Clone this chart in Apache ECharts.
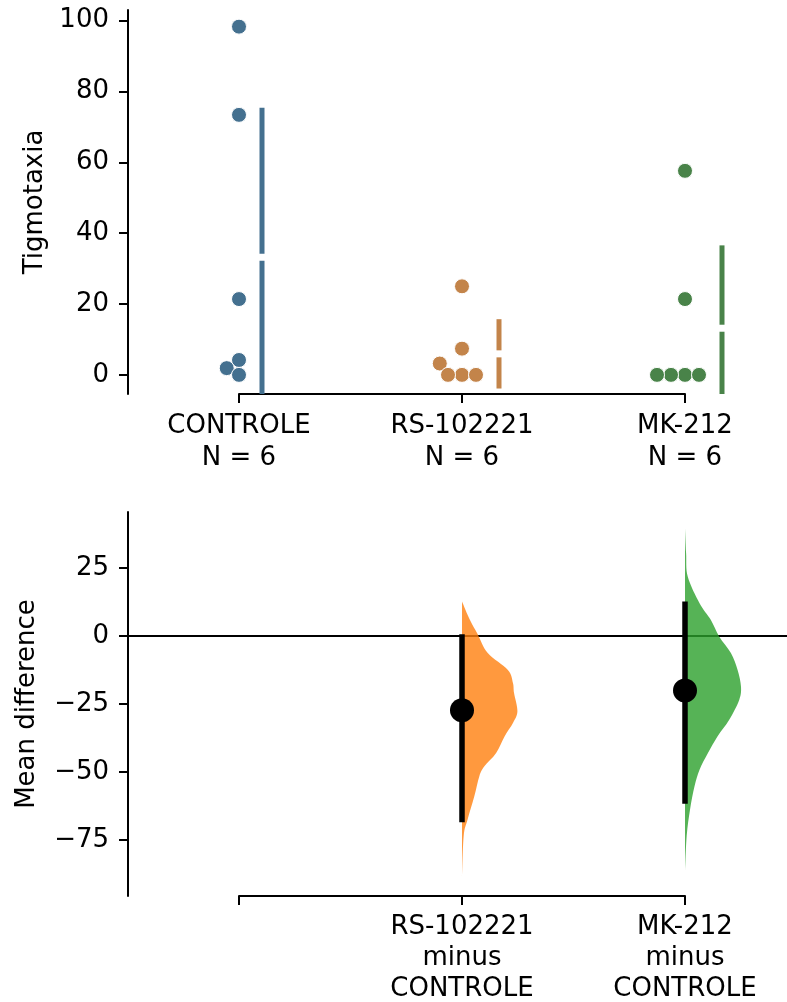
<!DOCTYPE html>
<html>
<head>
<meta charset="utf-8">
<script src="https://cdn.jsdelivr.net/npm/echarts@6/dist/echarts.min.js"></script>
<style>
  html, body { margin: 0; padding: 0; background: #fff; }
  #chart { width: 787px; height: 1002px; }
</style>
</head>
<body>
<div id="chart"></div>
<script>
// top panel: raw observations per group
const groups = ['CONTROLE', 'RS-102221', 'MK-212'];
const groupN = ['N = 6', 'N = 6', 'N = 6'];
const controleVals = [98.3, 73.4, 21.4, 4.2, 1.9, 0];
const rsVals = [25.0, 7.4, 3.2, 0, 0, 0];
const mkVals = [57.6, 21.4, 0, 0, 0, 0];
const topTicks = [0, 20, 40, 60, 80, 100];

// bottom panel: mean differences vs CONTROLE
const contrastLabels = ['', 'RS-102221\nminus\nCONTROLE', 'MK-212\nminus\nCONTROLE'];
const ciLow = [null, -68.4, -61.6];
const ciHigh = [null, 0.6, 12.6];
const bottomTicks = [-75, -50, -25, 0, 25];

// bootstrap distributions (value, relative density)
const rsDistValues = [12.6, 5.9, 0.6, -6.3, -12.5, -17.3, -21.0, -27.7, -32.0, -36.9, -43.0, -47.9, -51.5, -58.9, -67.4, -73.5, -88.8];
const rsDistDensity = [0, 0.14, 0.28, 0.46, 0.82, 0.91, 0.93, 0.99, 0.91, 0.76, 0.61, 0.40, 0.31, 0.22, 0.10, 0.03, 0];
const mkDistValues = [39.4, 30.3, 21.7, 12.0, 5.9, -0.2, -6.3, -12.5, -18.6, -23.4, -30.8, -36.9, -43.0, -49.1, -55.2, -63.7, -73.5, -86.3];
const mkDistDensity = [0, 0.02, 0.05, 0.26, 0.46, 0.61, 0.82, 0.94, 1.0, 0.97, 0.79, 0.58, 0.41, 0.26, 0.17, 0.09, 0.03, 0];

const swarmColors = ['#44708f', '#c3844a', '#498349'];
const violinColors = ['', 'rgba(255,127,14,0.8)', 'rgba(44,160,44,0.8)'];
const font = 'DejaVu Sans';
const fs = 26;
const yAxisShift = 111;      // y axis sits left of the first group
const violinWidth = 0.251;   // category units at density 1
const dotSize = 15;

const allVals = [controleVals, rsVals, mkVals];
const distValues = [null, rsDistValues, mkDistValues];
const distDensity = [null, rsDistDensity, mkDistDensity];

function mean(a) { return a.reduce((s, v) => s + v, 0) / a.length; }
function sd(a) {
  const m = mean(a);
  return Math.sqrt(a.reduce((s, v) => s + (v - m) * (v - m), 0) / (a.length - 1));
}
const means = allVals.map(mean);
const sds = allVals.map(sd);
const diffs = [null, means[1] - means[0], means[2] - means[0]];

function fmtMinus(v) { return v < 0 ? '\u2212' + Math.abs(v) : String(v); }

function smoothPath(pts) {
  const f = n => n.toFixed(2);
  let d = 'M ' + f(pts[0][0]) + ' ' + f(pts[0][1]);
  for (let i = 0; i < pts.length - 1; i++) {
    const p0 = pts[i - 1] || pts[i], p1 = pts[i], p2 = pts[i + 1], p3 = pts[i + 2] || p2;
    const c1x = p1[0] + (p2[0] - p0[0]) / 6, c1y = p1[1] + (p2[1] - p0[1]) / 6;
    const c2x = p2[0] - (p3[0] - p1[0]) / 6, c2y = p2[1] - (p3[1] - p1[1]) / 6;
    d += ' C ' + f(c1x) + ' ' + f(c1y) + ' ' + f(c2x) + ' ' + f(c2y) + ' ' + f(p2[0]) + ' ' + f(p2[1]);
  }
  return d + ' Z';
}

// simple beeswarm in pixel space, lowest values first, ties go left
function swarm(vals, pys, d) {
  const order = vals.map((v, i) => i).sort((a, b) => vals[a] - vals[b]);
  const placed = [];
  const xs = new Array(vals.length);
  order.forEach(i => {
    const y = pys[i];
    const cands = [0];
    placed.forEach(p => {
      const dy = Math.abs(p.y - y);
      if (dy < d) {
        const dx = Math.sqrt(d * d - dy * dy);
        cands.push(p.x + dx, p.x - dx);
      }
    });
    const ok = cands.filter(c => placed.every(p => (p.x - c) * (p.x - c) + (p.y - y) * (p.y - y) >= d * d - 0.01));
    ok.sort((a, b) => (Math.abs(a) - Math.abs(b)) || (a - b));
    xs[i] = ok[0];
    placed.push({ x: ok[0], y: y });
  });
  return xs;
}

const axisStyle = { color: '#000', width: 2 };
const labelBase = { color: '#000', fontFamily: font, fontSize: fs };

const chart = echarts.init(document.getElementById('chart'), null, { renderer: 'canvas' });

const option = {
  animation: false,
  backgroundColor: '#fff',
  grid: [
    { left: 239, right: 102, top: 10, height: 384, outerBoundsMode: 'none' },
    { left: 239, right: 102, top: 512, height: 384, outerBoundsMode: 'none' }
  ],
  xAxis: [
    {
      gridIndex: 0, type: 'value', min: 0, max: 2,
      axisLine: { show: true, onZero: false, lineStyle: axisStyle },
      axisTick: { show: true, length: 9, lineStyle: axisStyle, customValues: [0, 1, 2] },
      axisLabel: Object.assign({}, labelBase, {
        customValues: [0, 1, 2], margin: 16, lineHeight: 32,
        formatter: v => groups[Math.round(v)] + '\n' + groupN[Math.round(v)]
      }),
      splitLine: { show: false }
    },
    {
      gridIndex: 1, type: 'value', min: 0, max: 2,
      axisLine: { show: true, onZero: false, lineStyle: axisStyle },
      axisTick: { show: true, length: 9, lineStyle: axisStyle, customValues: [0, 1, 2] },
      axisLabel: Object.assign({}, labelBase, {
        customValues: [0, 1, 2], margin: 16, lineHeight: 31,
        formatter: v => contrastLabels[Math.round(v)]
      }),
      splitLine: { show: false }
    }
  ],
  yAxis: [
    {
      gridIndex: 0, type: 'value', min: -5.4, max: 103, offset: yAxisShift,
      axisLine: { show: true, onZero: false, lineStyle: axisStyle },
      axisTick: { show: true, length: 9, lineStyle: axisStyle, customValues: topTicks },
      axisLabel: Object.assign({}, labelBase, { customValues: topTicks, margin: 19 }),
      splitLine: { show: false },
      name: 'Tigmotaxia', nameLocation: 'middle', nameGap: 80,
      nameTextStyle: labelBase
    },
    {
      gridIndex: 1, type: 'value', min: -95.5, max: 45.5, offset: yAxisShift,
      axisLine: { show: true, onZero: false, lineStyle: axisStyle },
      axisTick: { show: true, length: 9, lineStyle: axisStyle, customValues: bottomTicks },
      axisLabel: Object.assign({}, labelBase, { customValues: bottomTicks, margin: 19, formatter: fmtMinus }),
      splitLine: { show: false },
      name: 'Mean difference', nameLocation: 'middle', nameGap: 88,
      nameTextStyle: labelBase
    }
  ],
  series: [
    // swarms (filled in after layout)
    ...groups.map((g, i) => ({
      id: 'swarm' + i, type: 'scatter', xAxisIndex: 0, yAxisIndex: 0, clip: false,
      symbolSize: dotSize, z: 3,
      itemStyle: { color: swarmColors[i], borderColor: '#fff', borderWidth: 1, opacity: 1 },
      data: []
    })),
    {
      id: 'gaps', type: 'custom', xAxisIndex: 0, yAxisIndex: 0, z: 2,
      renderItem: (params, api) => {
        const i = api.value(0), m = api.value(1), s = api.value(2), off = api.value(3);
        const cs = params.coordSys;
        const x = api.coord([i, m])[0] + off;
        const yTop = api.coord([i, m + s])[1];
        const yMid = api.coord([i, m])[1];
        const yBot = Math.min(api.coord([i, m - s])[1], cs.y + cs.height);
        const st = { stroke: swarmColors[i], lineWidth: 5 };
        return { type: 'group', children: [
          { type: 'line', shape: { x1: x, y1: yTop, x2: x, y2: yMid - 3.5 }, style: st },
          { type: 'line', shape: { x1: x, y1: yMid + 3.5, x2: x, y2: yBot }, style: st }
        ] };
      },
      data: []
    },
    {
      id: 'zero', type: 'custom', xAxisIndex: 1, yAxisIndex: 1, z: 1,
      renderItem: (params, api) => {
        const cs = params.coordSys;
        const y = api.coord([0, api.value(1)])[1];
        return { type: 'line', shape: { x1: cs.x - yAxisShift, y1: y, x2: api.getWidth(), y2: y },
          style: { stroke: '#000', lineWidth: 2 } };
      },
      data: [[0, 0]]
    },
    {
      id: 'violins', type: 'custom', xAxisIndex: 1, yAxisIndex: 1, z: 2,
      renderItem: (params, api) => {
        const i = api.value(0);
        const w = api.size([violinWidth, 0])[0];
        const cx = api.coord([i, 0])[0];
        const pts = distValues[i].map((v, k) => [cx + distDensity[i][k] * w, api.coord([i, v])[1]]);
        return { type: 'path', shape: { pathData: smoothPath(pts) }, style: { fill: violinColors[i] } };
      },
      data: [[1, 0], [2, 0]]
    },
    {
      id: 'ci', type: 'custom', xAxisIndex: 1, yAxisIndex: 1, z: 3,
      renderItem: (params, api) => {
        const i = api.value(0);
        const a = api.coord([i, api.value(1)]), b = api.coord([i, api.value(2)]);
        return { type: 'line', shape: { x1: a[0], y1: a[1], x2: b[0], y2: b[1] },
          style: { stroke: '#000', lineWidth: 5.5 } };
      },
      data: [[1, ciLow[1], ciHigh[1]], [2, ciLow[2], ciHigh[2]]]
    },
    {
      id: 'diff', type: 'scatter', xAxisIndex: 1, yAxisIndex: 1, clip: false, z: 4,
      symbolSize: 24, itemStyle: { color: '#000', opacity: 1 },
      data: [[1, diffs[1]], [2, diffs[2]]]
    }
  ]
};

chart.setOption(option);

// lay out swarms with the real pixel scale, then place the gapped mean ± sd lines beside them
const r = dotSize / 2;
const swarmData = [];
const gapData = [];
allVals.forEach((vals, g) => {
  const pys = vals.map(v => chart.convertToPixel({ gridIndex: 0 }, [g, v])[1]);
  const xs = swarm(vals, pys, 14);
  const cx = chart.convertToPixel({ gridIndex: 0 }, [g, 0])[0];
  swarmData.push(vals.map((v, k) => [chart.convertFromPixel({ gridIndex: 0 }, [cx + xs[k], pys[k]])[0], v]));
  gapData.push([g, means[g], sds[g], Math.max.apply(null, xs) + r + 15.5]);
});

chart.setOption({
  series: [
    { id: 'swarm0', data: swarmData[0] },
    { id: 'swarm1', data: swarmData[1] },
    { id: 'swarm2', data: swarmData[2] },
    { id: 'gaps', data: gapData }
  ]
});

window.addEventListener('resize', chart.resize);
</script>
</body>
</html>
